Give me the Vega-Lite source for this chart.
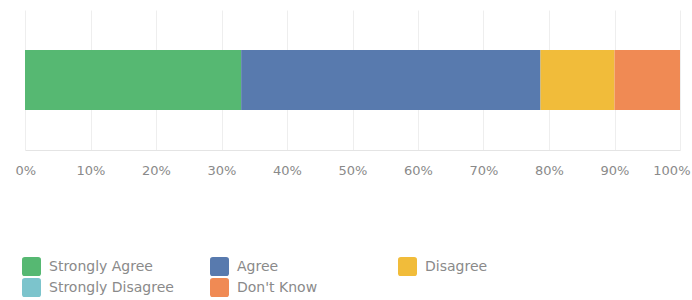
{
  "$schema": "https://vega.github.io/schema/vega-lite/v6.json",
  "width": 655,
  "height": 140,
  "autosize": {"type": "none"},
  "padding": {"left": 25, "top": 10, "right": 12, "bottom": 150},
  "background": "white",
  "data": {
    "values": [
      {"q": "Q1", "answer": "Strongly Agree", "pct": 0.33, "rank": 1},
      {"q": "Q1", "answer": "Agree", "pct": 0.457, "rank": 2},
      {"q": "Q1", "answer": "Disagree", "pct": 0.113, "rank": 3},
      {"q": "Q1", "answer": "Strongly Disagree", "pct": 0.0, "rank": 4},
      {"q": "Q1", "answer": "Don't Know", "pct": 0.1, "rank": 5}
    ]
  },
  "mark": {"type": "bar"},
  "encoding": {
    "y": {"field": "q", "type": "nominal", "axis": null, "scale": {"padding": 0.4}},
    "x": {
      "field": "pct", "type": "quantitative", "stack": "zero",
      "scale": {"domain": [0, 1], "nice": false},
      "axis": {
        "format": "%", "values": [0,0.1,0.2,0.3,0.4,0.5,0.6,0.7,0.8,0.9,1],
        "title": null, "ticks": false, "labelPadding": 14, "labelOverlap": false,
        "labelFlush": true, "labelFlushOffset": 10,
        "labelFont": "DejaVu Sans", "labelFontSize": 13, "labelColor": "#8a8a8a",
        "domainColor": "#e4e4e4", "gridColor": "#eeeeee"
      }
    },
    "order": {"field": "rank", "type": "quantitative", "sort": "ascending"},
    "color": {
      "field": "answer", "type": "nominal",
      "scale": {
        "domain": ["Strongly Agree", "Agree", "Disagree", "Strongly Disagree", "Don't Know"],
        "range": ["#56b872", "#587aae", "#f1bc3a", "#7cc4cc", "#f08a54"]
      },
      "legend": {
        "title": null, "orient": "none", "legendX": -3, "legendY": 247,
        "direction": "horizontal", "columns": 3, "gridAlign": "all",
        "columnPadding": 36, "rowPadding": 2, "padding": 0,
        "symbolType": "M -1 -0.7 Q -1 -1 -0.7 -1 L 0.7 -1 Q 1 -1 1 -0.7 L 1 0.7 Q 1 1 0.7 1 L -0.7 1 Q -1 1 -1 0.7 Z",
        "symbolSize": 361, "symbolStrokeWidth": 0, "symbolOpacity": 1,
        "labelFont": "DejaVu Sans", "labelFontSize": 14, "labelColor": "#8a8a8a",
        "labelOffset": 8, "labelLimit": 250
      }
    }
  },
  "config": {"view": {"stroke": null}}
}
